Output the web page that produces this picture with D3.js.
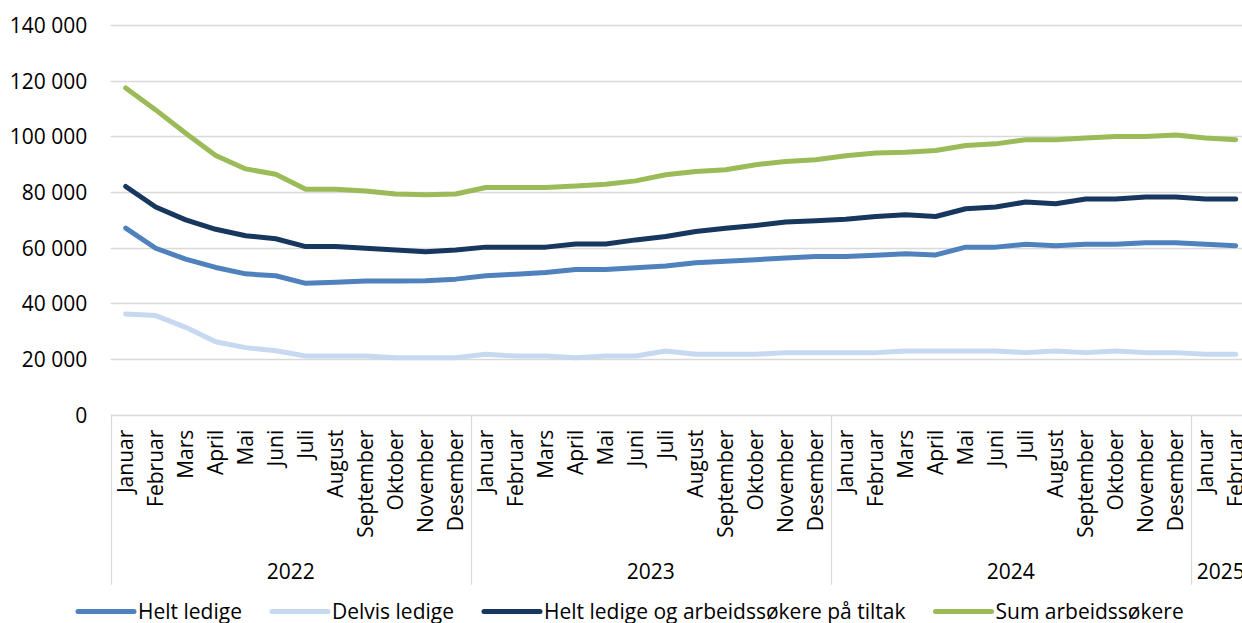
<html>
<head>
<meta charset="utf-8">
<script src="https://d3js.org/d3.v7.min.js"></script>
<style>
  body { margin: 0; background: #fff; overflow: hidden; }
  text { font-family: "Open Sans", sans-serif; fill: #000; }
  .grid line { stroke: #d9d9d9; stroke-width: 1.3px; }
  .line { fill: none; stroke-width: 5px; stroke-linejoin: round; stroke-linecap: round; }
</style>
</head>
<body>
<script>
// kategorier
var years = ["2022", "2023", "2024", "2025"];
var monthNames = ["Januar", "Februar", "Mars", "April", "Mai", "Juni", "Juli", "August", "September", "Oktober", "November", "Desember"];
var monthsPerYear = [12, 12, 12, 2];
var yTicks = [0, 20000, 40000, 60000, 80000, 100000, 120000, 140000];

// serier (jan 2022 - feb 2025)
var heltLedige = [67000, 59800, 55900, 52900, 50600, 49900, 47200, 47600, 48000, 48000, 48100, 48700,
  49900, 50500, 51100, 52200, 52200, 52800, 53400, 54600, 55100, 55700, 56300, 56800,
  56800, 57300, 57800, 57400, 60200, 60200, 61200, 60700, 61200, 61200, 61800, 61800,
  61200, 60700];
var delvisLedige = [36200, 35600, 31400, 26200, 24100, 23000, 21100, 21100, 21100, 20500, 20500, 20500,
  21700, 21100, 21100, 20500, 21100, 21100, 22900, 21700, 21700, 21700, 22300, 22300,
  22300, 22300, 22900, 22900, 22900, 22900, 22300, 22900, 22300, 22900, 22300, 22300,
  21700, 21700];
var tiltak = [82000, 74600, 70000, 66600, 64300, 63200, 60400, 60400, 59800, 59200, 58500, 59200,
  60200, 60200, 60200, 61300, 61300, 62800, 64000, 65800, 67000, 68000, 69200, 69700,
  70200, 71200, 71800, 71200, 74000, 74600, 76400, 75800, 77500, 77500, 78200, 78200,
  77500, 77500];
var sumArbeidssokere = [117400, 109500, 101100, 93100, 88300, 86400, 81000, 81000, 80400, 79300, 79000, 79300,
  81600, 81600, 81600, 82200, 82800, 84000, 86200, 87400, 88000, 89800, 91000, 91600,
  93000, 94000, 94300, 94900, 96700, 97300, 98800, 98800, 99400, 99900, 99900, 100500,
  99400, 98800];

var seriesNames = ["Helt ledige", "Delvis ledige", "Helt ledige og arbeidssøkere på tiltak", "Sum arbeidssøkere"];
var seriesColors = ["#4f81bd", "#c6d9f1", "#17375e", "#9bbb59"];
var seriesData = [heltLedige, delvisLedige, tiltak, sumArbeidssokere];

var W = 1242, H = 623;
var margin = {top: 25, left: 110.7, bottom: 208.3};
var nMonths = d3.sum(monthsPerYear);
var plotW = 30 * nMonths;
var plotH = H - margin.top - margin.bottom;

// måned-kategorier
var cats = [];
years.forEach(function(y, yi) {
  for (var m = 0; m < monthsPerYear[yi]; m++) cats.push(y + "-" + m);
});

var x = d3.scaleBand().domain(cats).range([margin.left, margin.left + plotW]);
var y = d3.scaleLinear().domain([0, 140000]).range([margin.top + plotH, margin.top]);

var svg = d3.select("body").append("svg")
  .attr("width", W).attr("height", H);

// rutenett
svg.append("g").attr("class", "grid")
  .selectAll("line").data(yTicks).join("line")
  .attr("x1", margin.left).attr("x2", margin.left + plotW)
  .attr("y1", function(d){ return Math.round(y(d)) + 0.5; })
  .attr("y2", function(d){ return Math.round(y(d)) + 0.5; });

// y-akse
var fmt = function(d){ return d3.format(",")(d).replace(/,/g, " "); };
var yAxis = svg.append("g")
  .attr("transform", "translate(" + (margin.left - 23.5) + ",0)")
  .call(d3.axisLeft(y).tickValues(yTicks).tickSize(0).tickPadding(0).tickFormat(fmt));
yAxis.select(".domain").remove();
yAxis.selectAll("text").style("font-size", "21px").attr("font-family", null).attr("dy", "0.36em");

// x-akse: månedsnavn
var x0 = y(0);
var monthLabels = svg.append("g");
monthLabels.selectAll("text").data(cats).join("text")
  .attr("transform", function(d){ return "translate(" + (x(d) + x.bandwidth() / 2) + "," + (x0 + 15) + ") rotate(-90)"; })
  .attr("text-anchor", "end")
  .attr("dy", "0.36em")
  .style("font-size", "21px")
  .text(function(d){ return monthNames[+d.split("-")[1]]; });

// år-skiller og årstall
var yearStart = [];
var acc = 0;
monthsPerYear.forEach(function(n){ yearStart.push(acc); acc += n; });
var sepX = yearStart.map(function(s){ return x(cats[s]); });
sepX.push(margin.left + plotW);

svg.append("g").attr("class", "grid")
  .selectAll("line").data(sepX.slice(0, years.length)).join("line")
  .attr("x1", function(d){ return Math.round(d) + 0.5; })
  .attr("x2", function(d){ return Math.round(d) + 0.5; })
  .attr("y1", x0).attr("y2", x0 + 170);

svg.append("g").selectAll("text").data(years).join("text")
  .attr("x", function(d, i){ return (sepX[i] + sepX[i + 1]) / 2; })
  .attr("y", x0 + 157)
  .attr("dy", "0.36em")
  .attr("text-anchor", "middle")
  .style("font-size", "21px")
  .text(function(d){ return d; });

// linjer
var line = d3.line()
  .x(function(d, i){ return x(cats[i]) + x.bandwidth() / 2; })
  .y(function(d){ return y(d); });

svg.append("g").selectAll("path").data(seriesData).join("path")
  .attr("class", "line")
  .attr("stroke", function(d, i){ return seriesColors[i]; })
  .attr("d", line);

// forklaring
var legend = svg.append("g").attr("transform", "translate(0," + 611.5 + ")");
var lx = 78;
seriesNames.forEach(function(name, i) {
  var g = legend.append("g").attr("transform", "translate(" + lx + ",0)");
  g.append("line").attr("x1", 0).attr("x2", 56).attr("y1", 0).attr("y2", 0)
    .attr("stroke", seriesColors[i]).attr("stroke-width", 5).attr("stroke-linecap", "round");
  var t = g.append("text").attr("x", 60).attr("dy", "0.36em")
    .style("font-size", "21px").text(name);
  lx += 60 + t.node().getComputedTextLength() + 30;
});
</script>
</body>
</html>
